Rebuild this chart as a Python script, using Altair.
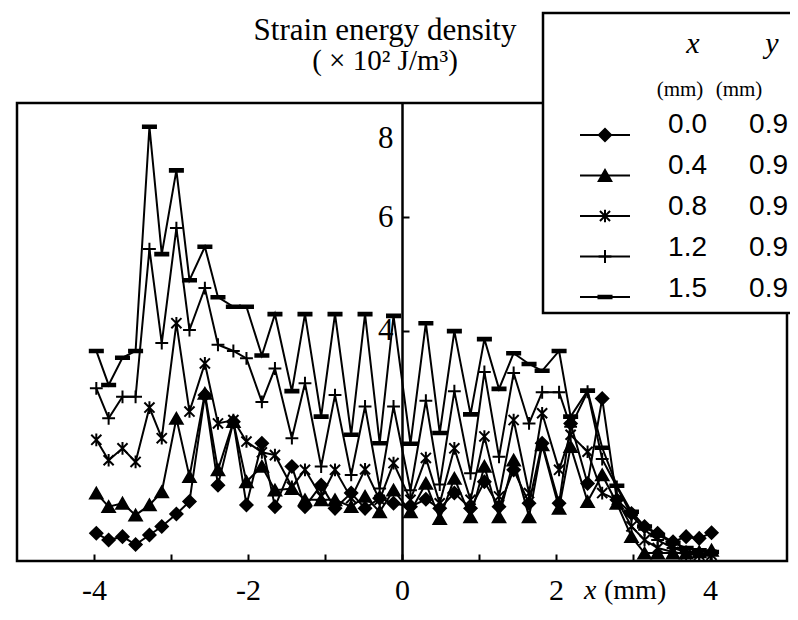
import altair as alt
import pandas as pd

# ---------------- data ----------------
xs = [-3.97, -3.81, -3.63, -3.46, -3.28, -3.12, -2.93, -2.76, -2.56, -2.39,
      -2.19, -2.02, -1.82, -1.65, -1.43, -1.26, -1.05, -0.87, -0.66, -0.48,
      -0.29, -0.11, 0.11, 0.31, 0.49, 0.68, 0.89, 1.07, 1.26, 1.45,
      1.65, 1.82, 2.04, 2.19, 2.41, 2.60, 2.79, 2.98, 3.15, 3.32,
      3.52, 3.69, 3.86, 4.02]

series_x_mm = ["0.0", "0.4", "0.8", "1.2", "1.5"]
series_y_mm = ["0.9", "0.9", "0.9", "0.9", "0.9"]

s00 = [0.42, 0.30, 0.36, 0.22, 0.39, 0.54, 0.76, 0.98, 2.86, 1.27,
       2.39, 0.92, 2.01, 0.89, 1.60, 0.89, 1.27, 0.86, 1.13, 0.86,
       1.04, 0.95, 0.89, 1.02, 0.86, 1.13, 0.86, 1.33, 0.89, 1.54,
       0.95, 2.01, 0.95, 2.36, 1.30, 2.80, 1.01, 0.77, 0.54, 0.42,
       0.27, 0.36, 0.33, 0.43]
s04 = [1.13, 0.89, 0.95, 0.74, 0.92, 1.15, 2.45, 1.42, 2.89, 1.54,
       2.39, 1.33, 1.60, 1.18, 1.21, 1.01, 1.01, 1.01, 0.89, 1.07,
       0.80, 1.18, 0.80, 1.30, 0.68, 1.39, 0.71, 1.60, 0.71, 1.71,
       0.71, 1.98, 0.86, 1.95, 0.98, 1.45, 0.95, 0.36, 0.07, 0.07,
       0.07, 0.07, 0.09, 0.12]
s08 = [2.07, 1.71, 1.92, 1.68, 2.64, 2.10, 4.13, 2.57, 3.42, 2.36,
       2.42, 2.04, 1.85, 1.80, 1.24, 1.54, 1.07, 1.54, 1.04, 1.55,
       1.01, 1.66, 1.01, 1.75, 0.95, 1.92, 1.01, 2.13, 1.07, 2.42,
       1.13, 2.54, 1.54, 2.16, 1.86, 1.13, 1.01, 0.54, 0.30, 0.16,
       0.09, 0.05, 0.04, 0.04]
s12 = [2.98, 2.45, 2.83, 2.83, 5.44, 3.78, 5.81, 4.01, 4.75, 3.75,
       3.64, 3.51, 2.74, 3.33, 2.10, 3.07, 1.60, 2.86, 1.45, 2.66,
       1.21, 2.66, 1.18, 2.76, 1.28, 2.93, 1.48, 3.27, 1.77, 3.25,
       2.36, 2.91, 2.91, 2.30, 2.92, 1.73, 1.24, 0.74, 0.48, 0.30,
       0.16, 0.09, 0.05, 0.04]
s15 = [3.64, 3.04, 3.52, 3.64, 7.60, 5.35, 6.83, 4.89, 5.48, 4.59,
       4.42, 4.42, 3.56, 4.29, 2.93, 4.29, 2.48, 4.29, 2.16, 4.29,
       2.01, 4.26, 2.00, 4.13, 2.19, 3.99, 2.52, 3.85, 2.97, 3.60,
       3.41, 3.29, 3.64, 2.48, 2.94, 1.93, 1.26, 0.80, 0.54, 0.39,
       0.25, 0.16, 0.12, 0.09]

x_ticks = [-4, -3, -2, -1, 0, 1, 2, 3, 4]
y_ticks = [4, 6, 7.4]          # label "8" sits lower than its true place in the reference
title_lines = ["Strain energy density", "( \u00d7 10\u00b2 J/m\u00b3)"]
legend_heads = ["x", "y"]
legend_units = ["(mm)", "(mm)"]
axis_title = ["x", "(mm)"]

# ---------------- build tables ----------------
rows = []
for name, vals in zip(series_x_mm, [s00, s04, s08, s12, s15]):
    for x, v in zip(xs, vals):
        rows.append({"series": name, "x": x, "v": v})
df = pd.DataFrame(rows)

W, H = 770, 458
FONT_SERIF = "Liberation Serif"
FONT_SANS = "Liberation Sans"

shape_scale = alt.Scale(
    domain=series_x_mm,
    range=["diamond", "triangle-up",
           "M-0.8,-0.8L0.8,0.8M-0.8,0.8L0.8,-0.8M0,-1V1",
           "M-1,0H1M0,-1V1",
           "M-1,-0.2H1V0.2H-1Z"])
size_scale = alt.Scale(domain=series_x_mm, range=[150, 170, 200, 200, 240])

xscale = alt.Scale(domain=[-5, 5], nice=False, zero=False)
yscale = alt.Scale(domain=[-0.07, 8.02], nice=False, zero=False)

x_axis = alt.Axis(orient="top", offset=-H, values=x_ticks, domain=False, grid=False,
                  tickSize=7, tickWidth=2, tickColor="black",
                  labelExpr="datum.value % 2 == 0 ? '' + datum.value : ''",
                  labelFont=FONT_SERIF, labelFontSize=30, labelColor="black",
                  labelBaseline="alphabetic", labelPadding=-45, labelFlush=False,
                  labelOverlap=False, title=None)
y_axis = alt.Axis(orient="right", offset=-W / 2, values=y_ticks, grid=False,
                  domain=True, domainColor="black", domainWidth=2.5,
                  tickSize=7, tickWidth=2, tickColor="black",
                  tickOpacity={"condition": {"test": "datum.value > 7", "value": 0}, "value": 1},
                  labelExpr="datum.value > 7 ? '8' : '' + datum.value",
                  labelAlign="right", labelBaseline="middle", labelPadding=-16,
                  labelFont=FONT_SERIF, labelFontSize=31, labelColor="black",
                  labelFlush=False, labelOverlap=False, title=None)

base = alt.Chart(df).encode(
    x=alt.X("x:Q", scale=xscale, axis=x_axis),
    y=alt.Y("v:Q", scale=yscale, axis=y_axis),
)
lines = base.mark_line(color="black", strokeWidth=2).encode(detail="series:N")
points = base.mark_point(filled=True, fill="black", stroke="black", strokeWidth=2,
                         opacity=1).encode(
    shape=alt.Shape("series:N", scale=shape_scale, legend=None),
    size=alt.Size("series:O", scale=size_scale, legend=None),
)

# ---------------- legend (drawn by hand, pixel positions relative to plot) ----------------
leg = pd.DataFrame({"series": series_x_mm, "xv": series_x_mm, "yv": series_y_mm})
leg["row"] = range(len(leg))
leg["sy"] = 32 + 40.5 * leg["row"]
leg["ty"] = 30 + 41 * leg["row"]
leg["lx1"] = 563
leg["lx2"] = 613
leg["mx"] = 588
leg["tx1"] = 690
leg["tx2"] = 771

box = alt.Chart(pd.DataFrame({"k": [0]})).mark_rect(
    fill="white", stroke="black", strokeWidth=2.5).encode(
    x=alt.value(526), x2=alt.value(900), y=alt.value(-90), y2=alt.value(210))

leg_base = alt.Chart(leg)
leg_rules = leg_base.mark_rule(color="black", strokeWidth=2).encode(
    x=alt.X("lx1:Q", scale=None), x2="lx2:Q", y=alt.Y("sy:Q", scale=None))
leg_pts = leg_base.mark_point(filled=True, fill="black", stroke="black", strokeWidth=2,
                              opacity=1).encode(
    x=alt.X("mx:Q", scale=None), y=alt.Y("sy:Q", scale=None),
    shape=alt.Shape("series:N", scale=shape_scale, legend=None),
    size=alt.Size("series:O", scale=size_scale, legend=None))
leg_t1 = leg_base.mark_text(align="right", baseline="alphabetic", font=FONT_SANS,
                            fontSize=28, color="black").encode(
    x=alt.X("tx1:Q", scale=None), y=alt.Y("ty:Q", scale=None), text="xv:N")
leg_t2 = leg_base.mark_text(align="right", baseline="alphabetic", font=FONT_SANS,
                            fontSize=28, color="black").encode(
    x=alt.X("tx2:Q", scale=None), y=alt.Y("ty:Q", scale=None), text="yv:N")

heads = pd.DataFrame({"t": legend_heads, "hx": [676, 755]})
units = pd.DataFrame({"t": legend_units, "ux": [663, 722]})
leg_heads = alt.Chart(heads).mark_text(align="center", baseline="alphabetic", font=FONT_SERIF,
                                       fontStyle="italic", fontSize=30, color="black").encode(
    x=alt.X("hx:Q", scale=None), y=alt.value(-50), text="t:N")
leg_units = alt.Chart(units).mark_text(align="center", baseline="alphabetic", font=FONT_SERIF,
                                       fontSize=21, color="black").encode(
    x=alt.X("ux:Q", scale=None), y=alt.value(-7), text="t:N")

# ---------------- titles ----------------
title1 = alt.Chart(pd.DataFrame({"t": [title_lines[0]]})).mark_text(
    align="center", baseline="alphabetic", font=FONT_SERIF, fontSize=31,
    color="black").encode(x=alt.value(368), y=alt.value(-63), text="t:N")
title2 = alt.Chart(pd.DataFrame({"t": [title_lines[1]]})).mark_text(
    align="center", baseline="alphabetic", font=FONT_SERIF, fontSize=29,
    color="black").encode(x=alt.value(368), y=alt.value(-33), text="t:N")

ax_x = alt.Chart(pd.DataFrame({"t": [axis_title[0]]})).mark_text(
    align="left", baseline="alphabetic", font=FONT_SERIF, fontStyle="italic",
    fontSize=28, color="black").encode(x=alt.value(567), y=alt.value(496), text="t:N")
ax_mm = alt.Chart(pd.DataFrame({"t": [axis_title[1]]})).mark_text(
    align="left", baseline="alphabetic", font=FONT_SERIF,
    fontSize=28, color="black").encode(x=alt.value(587), y=alt.value(496), text="t:N")

chart = alt.layer(
    lines, points, box, leg_rules, leg_pts, leg_t1, leg_t2, leg_heads, leg_units,
    title1, title2, ax_x, ax_mm
).properties(
    width=W, height=H,
    autosize=alt.AutoSizeParams(type="none"),
    padding={"left": 9, "top": 95, "right": 3, "bottom": 45},
    background="white",
).configure_view(stroke="black", strokeWidth=2.5)

chart.save("out.html", embed_options={"renderer": "svg", "actions": False})
